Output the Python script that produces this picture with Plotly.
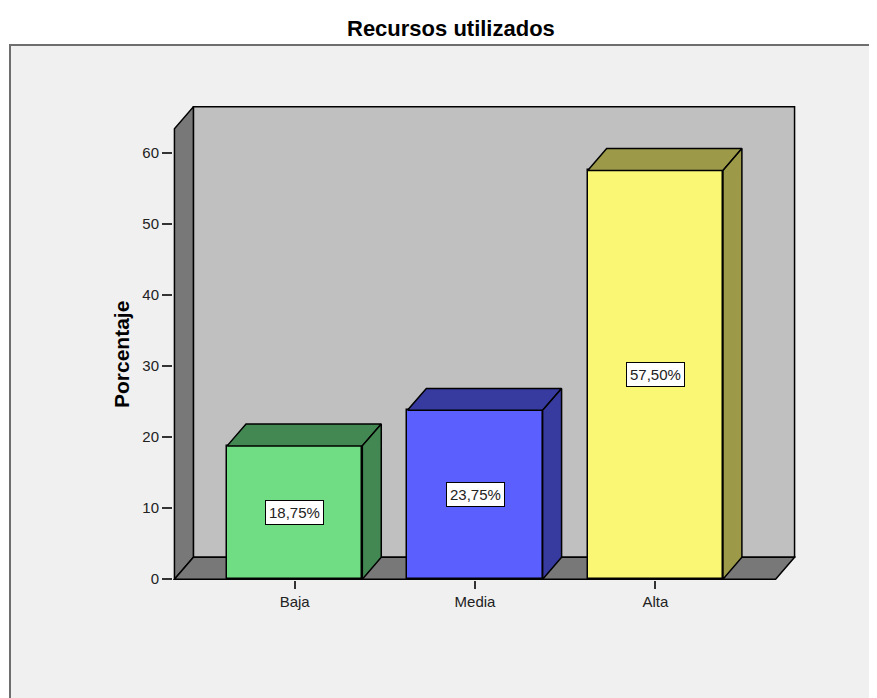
import plotly.graph_objects as go

# ---- data ----
categories = ["Baja", "Media", "Alta"]
percentages = [18.75, 23.75, 57.50]
value_labels = ["18,75%", "23,75%", "57,50%"]
y_tick_values = [0, 10, 20, 30, 40, 50, 60]

front_colors = ["#70dc84", "#5a5ffe", "#faf775"]
side_colors = ["#438752", "#373a9e", "#9c9a48"]

# ---- 3D frame geometry (axis units) ----
BAR_W = 0.75
DX = 0.105      # depth offset along x
DY = 3.08       # depth offset along y
X0, X1 = -0.667, 2.667
Y_TOP = 63.37
FONT = "Liberation Sans, Arial, sans-serif"
EDGE = dict(color="black", width=1.5)

OFF = 8  # page body margin
W, H = 877 - OFF, 698 - OFF
ML, MT = 173 - OFF, 106 - OFF
PW, PH = 796 - 173, 580 - 106
MR, MB = W - ML - PW, H - MT - PH

def px_x(px):  # reference page pixel -> paper x
    return (px - OFF - ML) / PW

def px_y(py):  # reference page pixel -> paper y
    return (MT + PH - (py - OFF)) / PH

fig = go.Figure()

# front faces of bars
fig.add_trace(go.Bar(
    x=list(range(len(categories))), y=percentages, width=BAR_W,
    marker=dict(color=front_colors, line=EDGE),
    hoverinfo="skip", showlegend=False,
))

# top and right faces
for i, v in enumerate(percentages):
    xl, xr = i - BAR_W / 2, i + BAR_W / 2
    fig.add_trace(go.Scatter(
        x=[xl, xr, xr + DX, xl + DX, xl], y=[v, v, v + DY, v + DY, v],
        mode="lines", fill="toself", fillcolor=side_colors[i], line=EDGE,
        hoverinfo="skip", showlegend=False,
    ))
    fig.add_trace(go.Scatter(
        x=[xr, xr + DX, xr + DX, xr, xr], y=[0, DY, v + DY, v, 0],
        mode="lines", fill="toself", fillcolor=side_colors[i], line=EDGE,
        hoverinfo="skip", showlegend=False,
    ))

shapes = []
# outer panel
shapes.append(dict(
    type="rect", xref="paper", yref="paper", layer="below",
    x0=px_x(10), x1=px_x(900), y0=px_y(720), y1=px_y(45),
    fillcolor="#f0f0f0", line=dict(color="#6e6e6e", width=2),
))

def poly(pts, color):
    path = "M " + " L ".join(f"{x},{y}" for x, y in pts) + " Z"
    return dict(type="path", xref="x", yref="y", layer="below", path=path,
                fillcolor=color, line=EDGE)

# back wall
shapes.append(poly([(X0 + DX, DY), (X1 + DX, DY), (X1 + DX, Y_TOP + DY), (X0 + DX, Y_TOP + DY)], "#c0c0c0"))
# side wall
shapes.append(poly([(X0, 0), (X0 + DX, DY), (X0 + DX, Y_TOP + DY), (X0, Y_TOP)], "#787878"))
# floor
shapes.append(poly([(X0, 0), (X1, 0), (X1 + DX, DY), (X0 + DX, DY)], "#787878"))

annotations = []
for i, (v, t) in enumerate(zip(percentages, value_labels)):
    annotations.append(dict(
        x=i, y=v / 2, xref="x", yref="y", text=t, showarrow=False,
        bgcolor="white", bordercolor="black", borderwidth=1, borderpad=3,
        font=dict(family=FONT, size=15, color="#222222"),
    ))
annotations.append(dict(
    x=px_x(121), y=px_y(355), xref="paper", yref="paper",
    xanchor="center", yanchor="middle",
    text="<b>Porcentaje</b>", textangle=-90, showarrow=False,
    font=dict(family=FONT, size=21, color="black"),
))
annotations.append(dict(
    x=px_x(451), y=px_y(28), xref="paper", yref="paper",
    xanchor="center", yanchor="middle",
    text="<b>Recursos utilizados</b>", showarrow=False,
    font=dict(family=FONT, size=22, color="black"),
))

fig.update_layout(
    width=W, height=H,
    margin=dict(l=ML, r=MR, t=MT, b=MB),
    paper_bgcolor="white", plot_bgcolor="rgba(0,0,0,0)",
    shapes=shapes, annotations=annotations,
    xaxis=dict(range=[X0 - 0.008, X1 + DX + 0.008], tickvals=list(range(len(categories))),
               ticktext=categories, ticks="outside", ticklen=8, tickcolor="#333333",
               tickwidth=1.5, showgrid=False, zeroline=False, showline=False,
               tickfont=dict(family=FONT, size=15, color="#222222")),
    yaxis=dict(range=[-0.12, Y_TOP + DY + 0.12], tickvals=y_tick_values,
               ticks="outside", ticklen=10, tickcolor="#333333", tickwidth=1.5,
               showgrid=False, zeroline=False, showline=False,
               tickfont=dict(family=FONT, size=15, color="#222222")),
    bargap=0,
)

fig.write_html("out.html")
